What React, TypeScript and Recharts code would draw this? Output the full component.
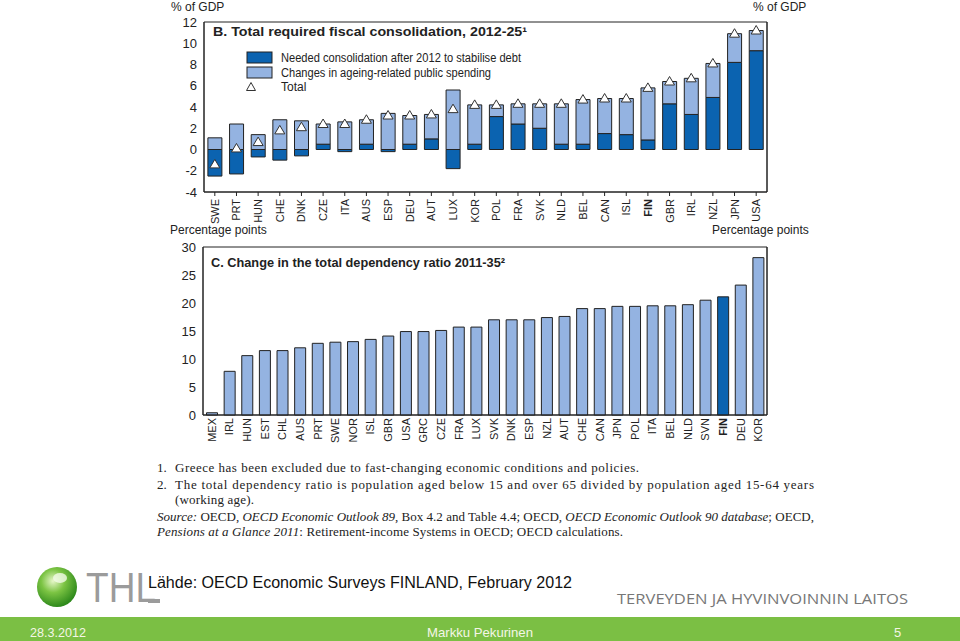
import React from "react"
import {
  ComposedChart,
  BarChart,
  Bar,
  Line,
  Cell,
  XAxis,
  YAxis,
  ReferenceArea,
} from "recharts"

// Panel B: total required fiscal consolidation, 2012-25 (% of GDP)
const fiscalCountries = [
  "SWE", "PRT", "HUN", "CHE", "DNK", "CZE", "ITA", "AUS", "ESP", "DEU", "AUT", "LUX", "KOR", "POL",
  "FRA", "SVK", "NLD", "BEL", "CAN", "ISL", "FIN", "GBR", "IRL", "NZL", "JPN", "USA",
]
const neededConsolidation = [
  -2.5, -2.3, -0.7, -1.0, -0.6, 0.5, -0.2, 0.5, -0.2, 0.5, 1.0, -1.8, 0.5, 3.1,
  2.4, 2.0, 0.5, 0.5, 1.5, 1.4, 0.9, 4.3, 3.3, 4.9, 8.2, 9.3,
]
const ageingSpending = [
  1.1, 2.4, 1.4, 2.8, 2.7, 1.9, 2.6, 2.3, 3.4, 2.7, 2.3, 5.6, 3.7, 1.1,
  1.9, 2.3, 3.8, 4.2, 3.3, 3.4, 4.9, 2.1, 3.4, 3.2, 2.7, 1.9,
]
const fiscalTotal = [
  -1.4, 0.1, 0.7, 1.8, 2.1, 2.4, 2.4, 2.8, 3.2, 3.2, 3.3, 3.8, 4.2, 4.2,
  4.3, 4.3, 4.3, 4.7, 4.8, 4.8, 5.8, 6.4, 6.7, 8.1, 10.9, 11.2,
]
const fiscalTicks = [-4, -2, 0, 2, 4, 6, 8, 10, 12]

// Panel C: change in the total dependency ratio 2011-35 (percentage points)
const dependencyCountries = [
  "MEX", "IRL", "HUN", "EST", "CHL", "AUS", "PRT", "SWE", "NOR", "ISL", "GBR", "USA", "GRC", "CZE", "FRA",
  "LUX", "SVK", "DNK", "ESP", "NZL", "AUT", "CHE", "CAN", "JPN", "POL", "ITA", "BEL", "NLD", "SVN", "FIN",
  "DEU", "KOR",
]
const dependencyChange = [
  0.4, 7.8, 10.6, 11.5, 11.5, 12.0, 12.8, 13.0, 13.1, 13.5, 14.1, 14.9, 14.9, 15.1, 15.7,
  15.7, 17.0, 17.0, 17.0, 17.4, 17.6, 19.0, 19.0, 19.4, 19.4, 19.5, 19.5, 19.7, 20.5, 21.1,
  23.2, 28.1,
]
const dependencyTicks = [0, 5, 10, 15, 20, 25, 30]

const DARK = "#0b63b0"
const LIGHT = "#94b3e1"
const FONT = "'Liberation Sans', Arial, sans-serif"
const SERIF = "'Liberation Serif', 'DejaVu Serif', serif"

const fiscalData = fiscalCountries.map((c, i) => ({
  country: c,
  needed: neededConsolidation[i],
  ageing: ageingSpending[i],
  total: fiscalTotal[i],
}))

const dependencyData = dependencyCountries.map((c, i) => ({
  country: c,
  value: dependencyChange[i],
}))

const CountryTick = (props: any) => {
  const { x, y, payload, shift = 0 } = props
  const yy = y + shift
  return (
    <text
      x={x}
      y={yy}
      transform={`rotate(-90 ${x} ${yy})`}
      textAnchor="end"
      dominantBaseline="central"
      fontSize={11}
      fontFamily={FONT}
      fontWeight={payload.value === "FIN" ? "bold" : "normal"}
      fill="#222"
    >
      {payload.value}
    </text>
  )
}

const TriangleDot = (props: any) => {
  const { cx, cy } = props
  if (cx == null || cy == null) return null
  return (
    <path
      d={`M${cx},${cy - 5} L${cx + 5},${cy + 3.5} L${cx - 5},${cy + 3.5} Z`}
      fill="#fff"
      stroke="#333"
      strokeWidth={1}
    />
  )
}

const tickStyle = { fontSize: 13, fontFamily: FONT, fill: "#222" }

function FiscalChart() {
  return (
    <ComposedChart
      width={960}
      height={240}
      data={fiscalData}
      stackOffset="sign"
      barCategoryGap="18%"
      margin={{ top: 22, right: 153, bottom: 8, left: 164 }}
    >
      <XAxis
        dataKey="country"
        interval={0}
        tick={<CountryTick shift={1} />}
        tickSize={4}
        tickLine={{ stroke: "#222" }}
        axisLine={{ stroke: "#222" }}
        height={40}
      />
      <YAxis
        yAxisId="left"
        domain={[-4, 12]}
        ticks={fiscalTicks}
        width={40}
        tickLine={false}
        tickSize={5}
        axisLine={{ stroke: "#222" }}
        tick={tickStyle}
      />
      <YAxis
        yAxisId="right"
        orientation="right"
        domain={[-4, 12]}
        ticks={fiscalTicks}
        width={40}
        tickLine={false}
        tickSize={7}
        axisLine={{ stroke: "#222" }}
        tick={{ ...tickStyle, textAnchor: "start" }}
      />
      <ReferenceArea yAxisId="left" y1={-4} y2={12} fill="none" stroke="#222" ifOverflow="visible" />
      <Bar yAxisId="left" dataKey="needed" stackId="a" fill={DARK} stroke="#222" strokeWidth={1} isAnimationActive={false} />
      <Bar yAxisId="left" dataKey="ageing" stackId="a" fill={LIGHT} stroke="#222" strokeWidth={1} isAnimationActive={false} />
      <Line
        yAxisId="left"
        dataKey="total"
        stroke="none"
        strokeWidth={0}
        dot={<TriangleDot />}
        activeDot={false}
        isAnimationActive={false}
      />
    </ComposedChart>
  )
}

function DependencyChart() {
  return (
    <BarChart
      width={960}
      height={220}
      data={dependencyData}
      barCategoryGap="20%"
      margin={{ top: 12, right: 153, bottom: 6, left: 163 }}
    >
      <XAxis
        dataKey="country"
        interval={0}
        tick={<CountryTick shift={-3} />}
        tickSize={4}
        tickLine={false}
        axisLine={{ stroke: "#222" }}
        height={34}
      />
      <YAxis
        yAxisId="left"
        domain={[0, 30]}
        ticks={dependencyTicks}
        width={40}
        tickLine={false}
        tickSize={5}
        axisLine={{ stroke: "#222" }}
        tick={tickStyle}
      />
      <YAxis
        yAxisId="right"
        orientation="right"
        domain={[0, 30]}
        ticks={dependencyTicks}
        width={40}
        tickLine={false}
        tickSize={7}
        axisLine={{ stroke: "#222" }}
        tick={{ ...tickStyle, textAnchor: "start" }}
      />
      <ReferenceArea yAxisId="left" y1={0} y2={30} fill="none" stroke="#222" ifOverflow="visible" />
      <Bar yAxisId="left" dataKey="value" stroke="#222" strokeWidth={1} isAnimationActive={false}>
        {dependencyData.map((d) => (
          <Cell key={d.country} fill={d.country === "FIN" ? DARK : LIGHT} />
        ))}
      </Bar>
    </BarChart>
  )
}

function Overlay() {
  return (
    <svg width={960} height={641} style={{ position: "absolute", left: 0, top: 0, pointerEvents: "none" }}>
      <defs>
        <radialGradient id="ball" cx="40%" cy="35%" r="65%">
          <stop offset="0%" stopColor="#e6f7c8" />
          <stop offset="45%" stopColor="#7cc443" />
          <stop offset="100%" stopColor="#2f8a1c" />
        </radialGradient>
      </defs>
      <g fontFamily={FONT} fill="#222">
        <text x={171} y={11} fontSize={12}>% of GDP</text>
        <text x={753} y={11} fontSize={12}>% of GDP</text>
        <text x={170} y={234} fontSize={12}>Percentage points</text>
        <text x={712} y={234} fontSize={12}>Percentage points</text>

        <text x={213} y={36} fontSize={13.5} fontWeight="bold" textLength={314} lengthAdjust="spacingAndGlyphs">
          B. Total required fiscal consolidation, 2012-25¹
        </text>

        <rect x={247} y={52} width={25} height={11} fill={DARK} stroke="#222" />
        <rect x={247} y={67} width={25} height={11} fill={LIGHT} stroke="#222" />
        <path d="M251,82.5 L255.5,90.5 L246.5,90.5 Z" fill="#fff" stroke="#333" />
        <text x={281} y={62} fontSize={12} textLength={240} lengthAdjust="spacingAndGlyphs">
          Needed consolidation after 2012 to stabilise debt
        </text>
        <text x={281} y={77} fontSize={12} textLength={210} lengthAdjust="spacingAndGlyphs">
          Changes in ageing-related public spending
        </text>
        <text x={281} y={91} fontSize={12}>Total</text>

        <text x={211} y={267} fontSize={13.5} fontWeight="bold" textLength={294} lengthAdjust="spacingAndGlyphs">
          C. Change in the total dependency ratio 2011-35²
        </text>
      </g>

      <g fontFamily={SERIF} fill="#222" fontSize={13}>
        <text x={157} y={472}>1.</text>
        <text x={175} y={472} textLength={464} lengthAdjust="spacing">
          Greece has been excluded due to fast-changing economic conditions and policies.
        </text>
        <text x={157} y={489}>2.</text>
        <text x={175} y={489} textLength={639} lengthAdjust="spacing">
          The total dependency ratio is population aged below 15 and over 65 divided by population aged 15-64 years
        </text>
        <text x={175} y={504} textLength={79} lengthAdjust="spacing">(working age).</text>
        <text x={157} y={521} textLength={657} lengthAdjust="spacing">
          <tspan fontStyle="italic">Source:</tspan> OECD, <tspan fontStyle="italic">OECD Economic Outlook 89</tspan>, Box 4.2 and Table 4.4; OECD, <tspan fontStyle="italic">OECD Economic Outlook 90 database</tspan>; OECD,
        </text>
        <text x={157} y={536} textLength={466} lengthAdjust="spacing">
          <tspan fontStyle="italic">Pensions at a Glance 2011</tspan>: Retirement-income Systems in OECD; OECD calculations.
        </text>
      </g>

      <circle cx={57} cy={587} r={20} fill="url(#ball)" />
      <ellipse cx={60} cy={578} rx={7} ry={5} fill="#f4fbe8" opacity={0.8} />
      <text x={86} y={602} fontFamily={FONT} fontSize={42} fill="#9b9b9b" textLength={70} lengthAdjust="spacingAndGlyphs">
        THL
      </text>
      <line x1={148} y1={601} x2={160} y2={601} stroke="#9b9b9b" strokeWidth={4} />

      <text x={148} y={588} fontFamily={FONT} fontSize={16} fill="#111" textLength={424} lengthAdjust="spacingAndGlyphs">
        Lähde: OECD Economic Surveys FINLAND, February 2012
      </text>
      <text x={617} y={604} fontFamily="'Open Sans', sans-serif" fontSize={14} fill="#777" textLength={291} lengthAdjust="spacingAndGlyphs">
        TERVEYDEN JA HYVINVOINNIN LAITOS
      </text>

      <rect x={0} y={617} width={960} height={24} fill="#7bbf44" />
      <g fontFamily={FONT} fontSize={13} fill="#f4f6e6">
        <text x={30} y={637} textLength={56} lengthAdjust="spacingAndGlyphs">28.3.2012</text>
        <text x={427} y={637} textLength={106} lengthAdjust="spacingAndGlyphs">Markku Pekurinen</text>
        <text x={894} y={637}>5</text>
      </g>
    </svg>
  )
}

export default function App() {
  return (
    <div style={{ position: "absolute", left: 0, top: 0, width: 960, height: 641, background: "#fff", overflow: "hidden" }}>
      <div style={{ position: "absolute", left: 0, top: 0 }}>
        <FiscalChart />
      </div>
      <div style={{ position: "absolute", left: 0, top: 235 }}>
        <DependencyChart />
      </div>
      <Overlay />
    </div>
  )
}
